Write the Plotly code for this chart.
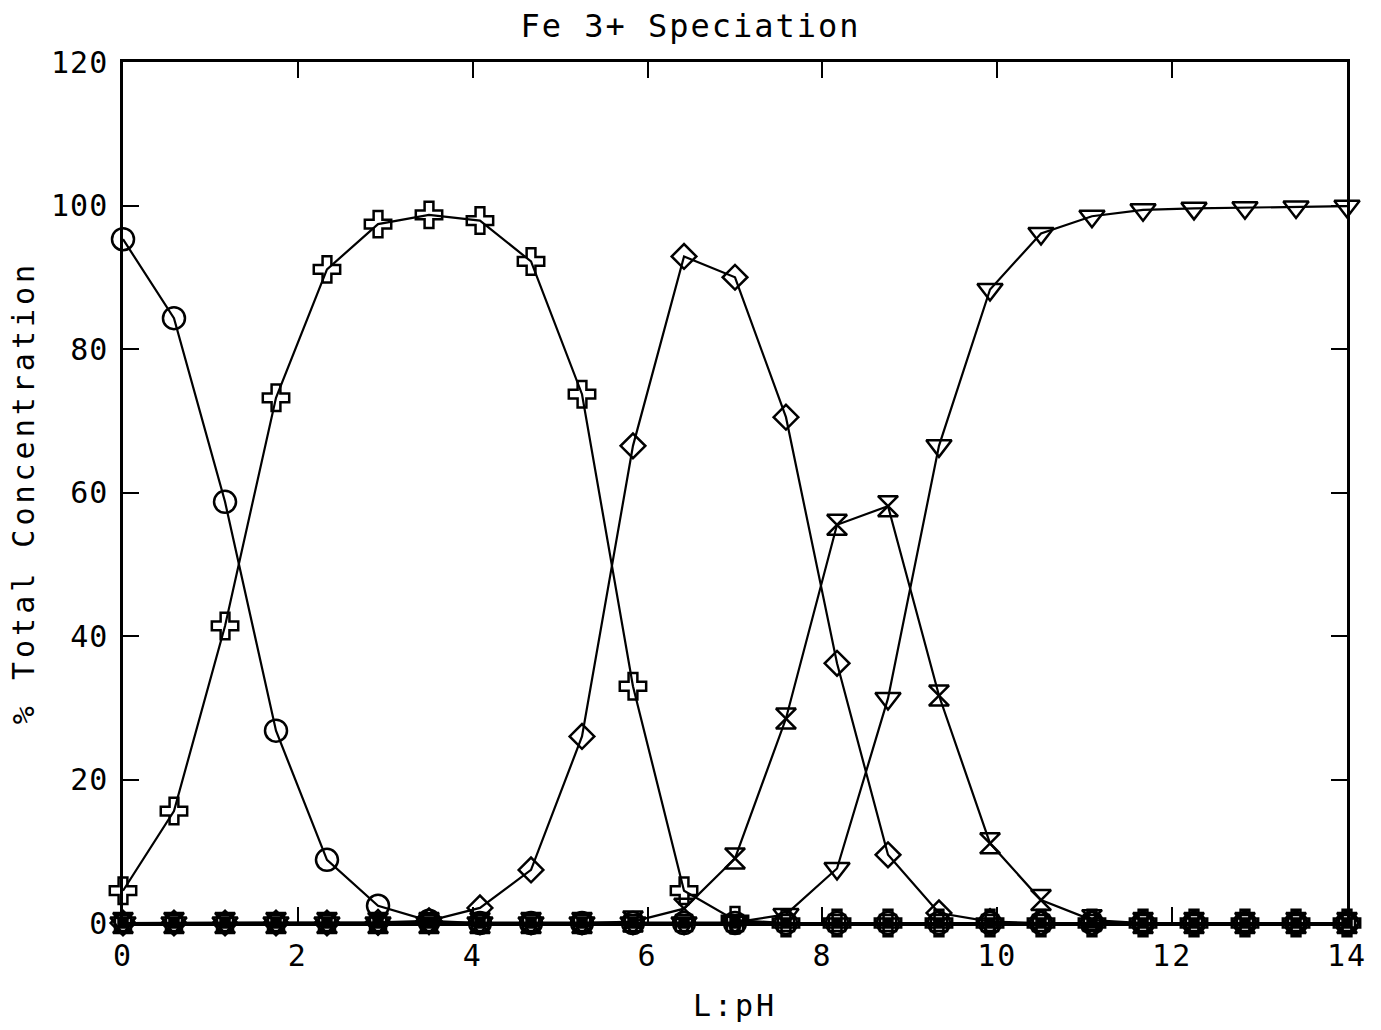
import plotly.graph_objects as go

ph = [0, 0.583, 1.167, 1.75, 2.333, 2.917, 3.5, 4.083, 4.667, 5.25, 5.833, 6.417,
      7.0, 7.583, 8.167, 8.75, 9.333, 9.917, 10.5, 11.083, 11.667, 12.25, 12.833, 13.417, 14.0]

fe3 = [95.3, 84.3, 58.7, 26.8, 8.8, 2.4, 0.3, 0, 0, 0, 0, 0,
       0, 0, 0, 0, 0, 0, 0, 0, 0, 0, 0, 0, 0]
feoh = [4.5, 15.6, 41.4, 73.2, 91.1, 97.4, 98.7, 97.9, 92.2, 73.7, 33.0, 4.5,
        0.4, 0, 0, 0, 0, 0, 0, 0, 0, 0, 0, 0, 0]
feoh2 = [0, 0, 0, 0, 0, 0.1, 0.3, 2.1, 7.4, 26.0, 66.5, 92.9,
         90.0, 70.5, 36.2, 9.5, 1.4, 0.2, 0, 0, 0, 0, 0, 0, 0]
feoh3 = [0, 0, 0, 0, 0, 0, 0, 0, 0, 0, 0.2, 2.0,
         9.0, 28.5, 55.5, 58.1, 31.7, 11.1, 3.2, 0.4, 0, 0, 0, 0, 0]
feoh4 = [0, 0, 0, 0, 0, 0, 0, 0, 0, 0, 0, 0,
         0.1, 1.2, 7.6, 31.3, 66.5, 88.3, 96.1, 98.5, 99.4, 99.6, 99.7, 99.8, 99.9]
dimer = [0] * 25
trimer = [0] * 25

x_ticks = [0, 2, 4, 6, 8, 10, 12, 14]
y_ticks = [0, 20, 40, 60, 80, 100, 120]

series = [
    ("Fe(OH)3", feoh3, "hourglass-open", 20),
    ("Fe(OH)4-", feoh4, "triangle-down-open", 22),
    ("Fe3+", fe3, "circle-open", 22),
    ("FeOH2+", feoh, "cross-open", 22),
    ("Fe(OH)2+", feoh2, "diamond-open", 19),
    ("Fe2(OH)2", dimer, "square-open", 16),
    ("Fe3(OH)4", trimer, "square", 9),
]

fig = go.Figure()
for name, ys, sym, sz in series:
    fig.add_trace(go.Scatter(
        x=ph, y=ys, name=name, mode="lines+markers",
        line=dict(color="black", width=2.2),
        marker=dict(symbol=sym, size=sz, color="black", line=dict(width=2.5, color="black")),
        cliponaxis=False,
    ))

font = "DejaVu Sans Mono"


def spaced(t, px):
    return f'<span style="letter-spacing:{px}px">{t}</span>'


fig.update_layout(
    width=1381, height=1030,
    margin=dict(l=123, r=34, t=62, b=105),
    paper_bgcolor="white", plot_bgcolor="white",
    showlegend=False,
    font=dict(family=font, size=30, color="black"),
    title=dict(text=spaced("Fe 3+ Speciation", 2), x=0.5, xanchor="center",
               y=0.975, yanchor="middle", font=dict(size=32)),
    xaxis=dict(
        range=[0, 14], tickvals=x_ticks,
        ticktext=[spaced(v, 2) for v in x_ticks],
        ticks="inside", ticklen=16, tickwidth=2, tickcolor="black",
        showline=True, linecolor="black", linewidth=2.5, mirror="ticks",
        showgrid=False, zeroline=False, ticklabelstandoff=4,
        title=dict(text=spaced("L:pH", 3), standoff=24, font=dict(size=30)),
    ),
    yaxis=dict(
        range=[0, 120], tickvals=y_ticks,
        ticktext=[spaced(v, 1) for v in y_ticks],
        ticks="inside", ticklen=16, tickwidth=2, tickcolor="black",
        showline=True, linecolor="black", linewidth=2.5, mirror="ticks",
        showgrid=False, zeroline=False, ticklabelstandoff=6,
        title=dict(text=spaced("% Total Concentration", 4), standoff=8, font=dict(size=30)),
    ),
)

fig.write_html("out.html")
